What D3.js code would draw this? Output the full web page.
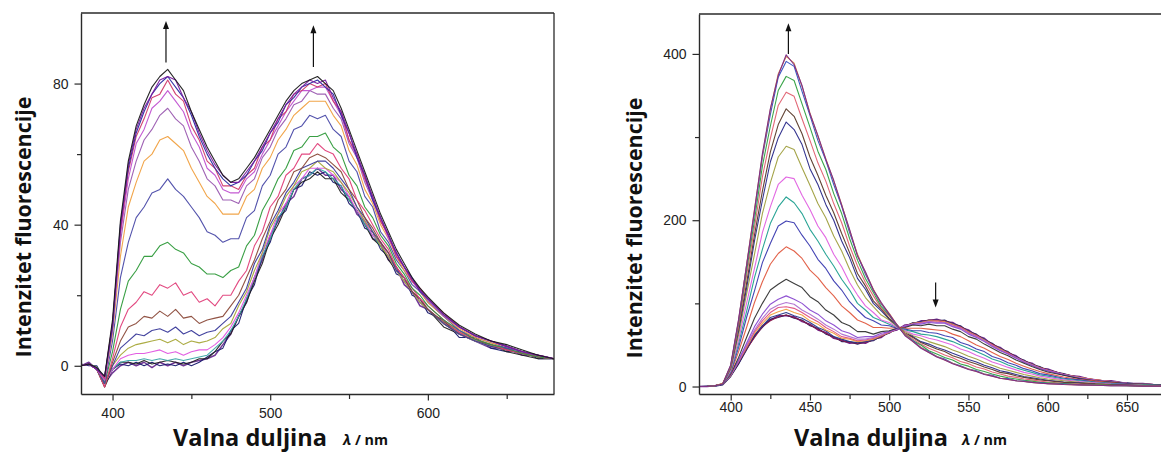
<!DOCTYPE html>
<html><head><meta charset="utf-8">
<script src="https://cdn.jsdelivr.net/npm/d3@7"></script>
<style>body{margin:0;background:#fff}svg{display:block}</style>
</head><body>
<svg id="chart" width="1161" height="453"></svg>
<script>
// ---------- DATA ----------
const wavelengths = [380,385,390,395,400,405,410,415,420,425,430,435,440,445,450,455,460,465,470,475,480,485,490,495,500,505,510,515,520,525,530,535,540,545,550,555,560,565,570,575,580,585,590,595,600,610,620,630,640,650,660,670,680];

// left panel: fluorescence intensity per titration step
const leftSeries = [
[0,1,-1,-5,-2,0,1,0,1,-0.5,1,0,1,0,1,1.5,2,3,6,9,14,18,25,30,37,41,46,48,53,54,56,54,54,50,48,43,41,36,35,30,28,23,21,17,16,12,9,7,5,5,3,3,2],
[0.5,0,0,-4,-1,0.5,0,1,0,1,0,0.5,0,1,0,1,2.5,4,5,10,12,19,23,31,35,42,44,50,51,55,54,55,52,51,46,44,39,38,33,31,26,25,20,19,15,13,8,8,5,4,4,2,2],
[0,0.5,-1,-6,-1,1,1,0.5,1.5,0.5,1,1.5,1,0.5,1,2,2,4,7,9,14,18,24,29,36,40,45,50,52,53,55,53,53,49,47,44,40,36,34,30,27,24,21,18,16,11,9,7,6,4,3,2,2],
[0,0.5,-0.5,-5,-1,1,1.5,1.5,2,1.5,2,1.5,2,1.5,2,2.5,3,5,7,10,14,19,25,31,36,42,45,50,53,54,56,55,53,51,47,44,40,37,34,31,27,24,21,18,16,12,9,7,5.5,4.5,3.5,2.5,2],
[0,0.5,-1,-5,-1,2,3,3.5,3.5,4,4.5,3.5,4,3,4,4.5,4.5,6,8,11,15,20,25,32,37,43,46,51,53,56,56,56,54,52,48,44,41,37,35,31,27,24,21,18,16,12,9,7,5.5,4.5,3.5,2.5,2],
[0,0.5,-0.5,-5,0,3,5,6,6.5,7,7.5,6.5,7.5,6,7,6.5,7,8,10.5,12,17,21,27,32,39,43,48,51,55,56,58,56,55,52,49,45,41,38,34,31,27,24,21,18,16,12,9,7,5.5,4.5,3.5,2.5,2],
[0,0.5,-1,-5,0,5,7,9,8.5,10,10.5,9.5,11,9,10,8.5,9.5,10,12,14,18,22,29,33,40,44,49,52,56,57,58,58,56,53,50,45,42,38,35,32,27,25,21,19,16,12,9,7,5.5,4.5,3.5,2.5,2],
[0,0.5,-1,-6,1,7,11,12,14,13.5,15.5,14,16,13.5,14,12,13,13.5,14,17,20,25,30,36,41,47,50,55,56,59,60,59,57,55,50,47,42,39,35,32,28,25,21,19,16,12.5,9.5,7.5,6,4.5,3.5,2.5,2],
[0,0.5,-1,-6,2,11,16,18,21,20,23,22,23.5,20,21,18,19,17,20,20,24,27,34,38,45,48,54,56,60,60,63,61,60,56,53,47,44,40,36,33,28,25,22,19,17,13,9.5,7.5,6,4.5,3.5,2.5,2],
[0,0.5,-1,-5,4,16,24,27,31,31,34,35,33,32,29,28,26,26,25,27,28,34,37,44,48,53,56,61,62,65,65,66,62,60,54,51,45,42,37,34,29,26,22,20,17,13,10,7.5,6,5,3.5,2.5,2],
[0,0.5,-1,-5,7,25,35,42,45,49,50,53,50,48,45,42,38,37,35,36,36,42,44,51,54,60,62,67,68,71,70,71,67,65,58,55,48,45,38,35,30,27,23,21,18,14,10,8,6.5,5,4,3,2],
[0,0.5,-1,-4,9,31,45,52,58,60,64,65,63,61,56,52,48,46,43,43,43,48,50,56,59,64,67,71,73,75,75,75,71,68,61,57,50,46,40,36,31,27,24,21,18,14,10.5,8,6.5,5.5,4,3,2],
[0,0.5,-1,-4,10,35,50,58,64,67,71,73,70,68,62,58,53,51,47,47,46,51,53,59,62,67,70,74,75,78,77,77,73,70,63,59,52,47,41,37,31,28,24,21.5,18.5,14,11,8.5,7,5.5,4,3,2],
[0,0.5,-1,-4,11,37,53,63,67,73,75,78,75,72,66,62,56,54,50,49,49,53,55,60,64,68,72,75,78,78,79,79,75,71,64,59,53,47,42,36,32,28,24,21,19,14.5,11,8.5,7,5.5,4,3,2],
[0,0.5,-1,-3.5,12,38,55,65,70,76,77,81,77,75,68,64,58,56,51,51,50,54,56,62,64,70,72,77,78,80,79,80,75,72,64,60,53,48,41,37,31,28,24,22,19,15,11,8.5,7,5.5,4,3,2],
[0,0.5,-1,-3,11,40,56,66,72,77,80,82,79,76,71,65,60,56,53,51,52,54,58,61,66,69,74,76,79,80,81,79,77,71,66,59,54,47,42,37,32,28,25,21,19,14.5,11,8.5,7,5.5,4,3,2],
[0,0.5,-1,-3,12,39,57,67,73,77,81,82,81,76,72,66,61,57,54,52,52,55,58,62,66,70,74,77,79,81,80,81,76,72,66,60,54,48,42,37,32,28,24.5,21.5,19,14.5,11,8.5,7,5.5,4,3,2],
[0,0.5,-0.5,-3,13,41,58,68,74,79,82,84,81,78,72,67,62,58,54,52,53,56,59,63,67,71,75,78,80,81,82,80,78,73,67,61,55,49,43,38,33,29,25,22,19.5,15,11.5,9,7,6,4.5,3,2]
];
const leftColors = ["#6a2c91","#1a1a6e","#222222","#3aa6a6","#e055e0","#a8a83a","#3a3a9a","#8b4a3a","#e0407a","#2e9a3a","#4a4aa8","#f0a040","#9a5ab0","#c050d0","#d03a6a","#2a2aa0","#7a1aa0","#1a1a1a"];

// right panel
const rightSeries = [
[0,0,1,3,13,28,46,60,73,80,85,85,84,78,75,68,65,58,56,52,53,52,57,59,66,68,74,75,79,79,81,78,77,71,68,61,58,50,47,40,37,30,28,22,21,14,12,7,7,3.5,3.5,1.5,2],
[0,0.5,0.5,2,12,27,44,61,71,81,83,86,82,80,73,70,63,60,54,54,51,54,55,61,64,70,72,77,77,80,79,80,75,73,66,63,56,52,45,42,35,32,26,24,19,15.5,10,8.5,5.5,4.5,2.5,2.5,1],
[0,0,1,3,14,29,45,59,72,79,84,86,83,79,74,69,64,59,55,53,52,53,56,60,65,69,73,76,78,80,80,79,76,72,67,62,57,51,46,41,36,31,27,23,20,15,11,8,6,4,3,2,1.5],
[0,0,0.5,3,13,29,46,62,73,83,86,89,85,82,77,71,67,60,57,54,53,54,56,61,65,70,72,76,78,79,80,78,76,71,67,61,57,50,46,40,36,30.5,27,22.5,20,14.5,11,7.5,6,4,3,2,1.5],
[0,0,1,3,13,30,47,64,76,86,90,93,89,86,79,75,68,64,58,57,54,55,57,61,65,70,72,76,77,79,79,78,75,71,66,61,56,50,45,40,35,30,26.5,22.5,19.5,14.5,11,8,6,4,3,2,1.5],
[0,0,1,3,14,30,48,66,79,89,95,96,94,89,83,78,71,66,60,58,55,56,58,62,65,70,72,75,77,78,79,77,74,71,65,61,55,50,44,40,35,30,26,22,19.5,14.5,10.5,8,6,4,3,2,1.5],
[0,0,1,3,14,31,50,68,82,93,98,101,99,92,87,81,74,69,63,60,57,57,59,62,66,69,73,75,76,78,77,77,73,70,64,60,55,49,44,39,34.5,30,26,22,19,14.5,10.5,7.5,6,4,3,2,1.5],
[0,0,1,3,14,32,52,72,87,99,105,109,105,100,92,87,79,74,67,64,59,60,60,64,66,70,72,75,75,77,76,76,72,69,63,59,54,48,43,39,34,29,25.5,21.5,19,14,10,7.5,5.5,4,3,2,1.5],
[0,0,1,3,15,35,59,82,100,116,123,129,124,119,108,102,92,86,77,73,66,66,63,66,67,70,71,74,73,75,73,73,69,66,60,57,51,46,41,37,32,28,24,20.5,17.5,13.5,9.5,7,5.5,3.5,3,2,1.5],
[0,0,1,3,16,42,71,101,126,147,160,168,163,154,140,131,119,109,97,89,80,76,71,71,70,71,70,70,70,69,68,67,63,60,55,50,46,41,36,32.5,28,24.5,21,18,15.5,11.5,8.5,6.5,4.5,3,2.5,1.5,1],
[0,0,1,3,17,47,83,115,149,172,193,199,197,182,169,153,142,127,116,102,92,83,79,74,73,70,69,67,67,65,64,61,59,53,50,45,42,36,33,28.5,25.5,21.5,19,15.5,14,10,8,5.5,4,3,2,1.5,1],
[0,0,1,3,18,52,90,131,165,196,216,228,221,208,189,175,159,145,129,116,100,92,83,79,75,71,68,66,63,62,60,57,54,50,46,42,38,33,30,26,22.5,19.5,17,14,12.5,9,7,5,3.5,2.5,2,1.5,1],
[0,0,1,3,19,56,100,142,185,216,243,252,250,230,213,193,179,159,144,125,110,97,89,80,77,71,67,63,61,58,56,53,50,45,42,37.5,34,29.5,26.5,23,20,17,15,12.5,11,8,6,4.5,3,2.5,1.5,1,1],
[0,0,1,3,21,62,111,159,208,245,276,289,285,263,242,220,203,181,163,141,122,107,96,86,80,72,66,61,58,54,51,48,44,40.5,36.5,33,29,25.5,22,19.5,17,14.5,12.5,10.5,9,7,5,3.5,2.5,2,1.5,1,1],
[0,0,1,3,22,67,118,175,224,270,299,318,309,291,262,243,219,200,175,155,130,117,100,91,81,73,64,60,54,51,47,44,40,36.5,32.5,29.5,25.5,22.5,19,17,14.5,12,10.5,9,7.5,5.5,4.5,3,2.5,2,1,1,0.5],
[0,0,1,3,23,70,124,182,235,282,315,334,325,304,276,254,230,209,184,161,136,121,103,93,82,74,64,59,53,49,45,42,37,34,30,27,23.5,20.5,17,15.5,13,11,9.5,8,7,5,4,3,2,1.5,1,1,0.5],
[0,0,1,3,23,73,133,191,252,298,338,354,349,322,296,269,247,220,197,169,145,125,109,94,85,73,64,57,51,46,42,38,34.5,30,27.5,23.5,21,17.5,15,12.5,11,9,8,6.5,5.5,4,3,2.5,1.5,1.5,1,0.5,0.5],
[0,0,1,3,24,77,139,200,265,313,356,373,368,340,312,283,261,232,208,178,152,130,113,96,86,73,63,55,50,43,39,35,32,27,24.5,20.5,18,15,12.5,10.5,9,7.5,6.5,5,4.5,3.5,2.5,2,1.5,1,0.5,0.5,0.5],
[0,0,1,3,25,79,145,209,276,327,372,391,385,355,326,296,272,243,217,185,158,135,116,99,87,73,62,55,47,42,36,33,28,25,21,19,15,13.5,10,9.5,7,6.5,5,4.5,3.5,3,2,1.5,1,1,0.5,0.5,0.5],
[0,0,1,4,25,80,146,213,278,333,376,397,389,361,329,301,274,247,219,188,159,137,117,100,88,74,62,54,47,41,36,32,28,24,21,18,15,12.5,10,8.5,7,6,5,4,3.5,2.5,2,1.5,1,1,0.5,0.5,0.5],
[0,0,1,3,26,81,145,212,280,334,374,399,387,362,328,302,273,248,218,189,157,138,116,101,87,74,61,54,46,41,35.5,32,27.5,24,20.5,18,14.5,12.5,10,8.5,7,6,5,4,3.5,2.5,2,1.5,1,1,0.5,0.5,0.5]
];
const rightColors = ["#6a1b8a","#1a1a5e","#8b1a4a","#2a3a8a","#f0a040","#e05080","#b070d0","#8a4ad0","#333333","#e05a40","#3a3ab0","#20a090","#e060e0","#a0a040","#2a2a8a","#5a3a2a","#e06070","#30a040","#3050c0","#d08040","#7a2a8a"];

const leftXTicks = [400,500,600], leftXMinor = [450,550,650];
const leftYTicks = [0,40,80], leftYMinor = [20,60];
const rightXTicks = [400,450,500,550,600,650], rightXMinor = [425,475,525,575,625,675];
const rightYTicks = [0,200,400], rightYMinor = [100,300];
const leftArrows = [{x:433.9, from:86, to:97.7},{x:527.4, from:84.7, to:96.5}];
const rightArrows = [{x:436.4, from:400, to:437},{x:529.3, from:125, to:95}];
const yTitle = "Intenzitet fluorescencije";
const xTitle = "Valna duljina";
const xUnitSym = "λ", xUnitRest = " / nm";

// ---------- DRAW ----------
const svg = d3.select("#chart");
const AX = "#2a2a2a";
const TITLE_FONT = "'Open Sans', Lato, sans-serif";

function fit(t, target, fs) {
  const L = t.node().getComputedTextLength();
  t.attr("font-size", (fs * target / L).toFixed(2));
}

function panel(id, o) {
  const g = svg.append("g");
  const x = d3.scaleLinear().domain([380, 680]).range([o.left, o.right]);
  const y = d3.scaleLinear().domain(o.yDomain).range([394, o.top]);
  g.append("clipPath").attr("id", id).append("rect")
    .attr("x", o.left).attr("y", o.top).attr("width", o.right - o.left).attr("height", 394 - o.top);
  const line = d3.line().x((d, i) => x(wavelengths[i])).y(d => y(d));
  g.append("g").attr("clip-path", `url(#${id})`).selectAll("path")
    .data(o.series).join("path")
    .attr("d", line).attr("fill", "none")
    .attr("stroke", (d, i) => o.colors[i])
    .attr("stroke-width", (d, i) => i === 0 ? 1.5 : 1.1)
    .attr("stroke-linejoin", "round").attr("opacity", 0.95);

  // frame (top / right)
  g.append("line").attr("x1", o.left).attr("x2", Math.min(o.right, 1161)).attr("y1", o.top).attr("y2", o.top)
    .attr("stroke", AX).attr("stroke-width", 1.3);
  if (o.right <= 1161) g.append("line").attr("x1", o.right).attr("x2", o.right).attr("y1", o.top).attr("y2", 394)
    .attr("stroke", AX).attr("stroke-width", 1.3);

  const style = sel => {
    sel.selectAll("path.domain").attr("stroke", AX).attr("stroke-width", 1.4);
    sel.selectAll(".tick line").attr("stroke", AX).attr("stroke-width", 1.2);
    sel.selectAll(".tick text").attr("fill", "#222").attr("font-family", "Liberation Sans, Arial, sans-serif").attr("font-size", 14);
  };
  const xa = g.append("g").attr("transform", "translate(0,394)")
    .call(d3.axisBottom(x).tickValues(o.xTicks).tickSize(6.5).tickSizeOuter(0).tickPadding(o.xPad).tickFormat(d3.format("d")));
  style(xa);
  const xm = g.append("g").attr("transform", "translate(0,394)")
    .call(d3.axisBottom(x).tickValues(o.xMinor).tickSize(5).tickFormat(""));
  xm.select("path.domain").remove(); style(xm);
  const ya = g.append("g").attr("transform", `translate(${o.left},0)`)
    .call(d3.axisLeft(y).tickValues(o.yTicks).tickSize(6.5).tickSizeOuter(0).tickPadding(6).tickFormat(d3.format("d")));
  style(ya);
  const ym = g.append("g").attr("transform", `translate(${o.left},0)`)
    .call(d3.axisLeft(y).tickValues(o.yMinor).tickSize(4).tickFormat(""));
  ym.select("path.domain").remove(); style(ym);

  // arrows
  o.arrows.forEach(a => {
    const ax = x(a.x), y1 = y(a.from), y2 = y(a.to);
    const dir = y2 < y1 ? -1 : 1;
    g.append("line").attr("x1", ax).attr("x2", ax).attr("y1", y1).attr("y2", y2 - dir * 6)
      .attr("stroke", "#111").attr("stroke-width", 1.2);
    g.append("path").attr("d", `M${ax},${y2} L${ax - 3},${y2 - dir * 8} L${ax + 3},${y2 - dir * 8} Z`).attr("fill", "#111");
  });

  // titles, sized to the reference extents
  const yt = g.append("text").attr("transform", `translate(${o.yTitleX},${o.yTitleY}) rotate(-90)`)
    .attr("text-anchor", "middle").attr("font-family", TITLE_FONT).attr("font-weight", "bold")
    .attr("font-size", 22).attr("fill", "#111").attr("dominant-baseline", "central").text(yTitle);
  fit(yt, 261, 22);
  const xt = g.append("text").attr("x", o.xTitleX).attr("y", 446)
    .attr("font-family", TITLE_FONT).attr("font-weight", "bold")
    .attr("font-size", 24).attr("fill", "#111").text(xTitle);
  fit(xt, 154, 24);
  const ut = g.append("text").attr("x", o.unitX).attr("y", 445)
    .attr("font-family", TITLE_FONT).attr("font-weight", "bold")
    .attr("font-size", 15).attr("fill", "#111");
  ut.append("tspan").attr("font-style", "italic").text(xUnitSym);
  ut.append("tspan").text(xUnitRest);
  fit(ut, 45, 15);
}

panel("clipL", {left: 81, right: 554, top: 13, yDomain: [-8, 100], series: leftSeries, colors: leftColors,
  xTicks: leftXTicks, xMinor: leftXMinor, yTicks: leftYTicks, yMinor: leftYMinor, xPad: 8,
  arrows: leftArrows, yTitleX: 22, yTitleY: 227, xTitleX: 173, unitX: 343});
panel("clipR", {left: 699, right: 1174.5, top: 14, yDomain: [-9, 448], series: rightSeries, colors: rightColors,
  xTicks: rightXTicks, xMinor: rightXMinor, yTicks: rightYTicks, yMinor: rightYMinor, xPad: 2,
  arrows: rightArrows, yTitleX: 633, yTitleY: 228, xTitleX: 794, unitX: 962});
</script>
</body></html>
